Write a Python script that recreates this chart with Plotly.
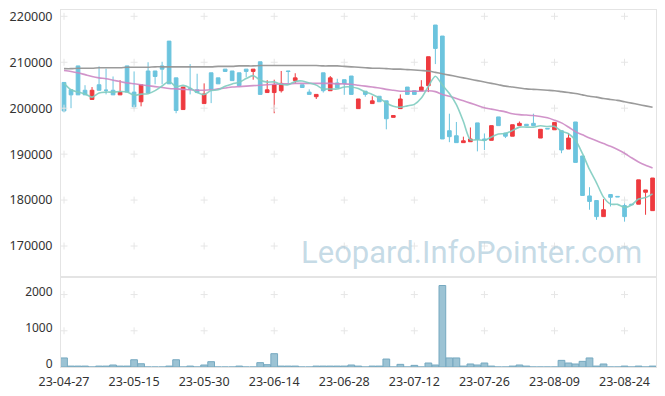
import plotly.graph_objects as go

dates = ["23-04-27", "23-04-28", "23-05-02", "23-05-03", "23-05-04", "23-05-08", "23-05-09", "23-05-10", "23-05-11", "23-05-12",
         "23-05-15", "23-05-16", "23-05-17", "23-05-18", "23-05-19", "23-05-22", "23-05-23", "23-05-24", "23-05-25", "23-05-26",
         "23-05-30", "23-05-31", "23-06-01", "23-06-02", "23-06-05", "23-06-07", "23-06-08", "23-06-09", "23-06-12", "23-06-13",
         "23-06-14", "23-06-15", "23-06-16", "23-06-19", "23-06-20", "23-06-21", "23-06-22", "23-06-23", "23-06-26", "23-06-27",
         "23-06-28", "23-06-29", "23-06-30", "23-07-03", "23-07-04", "23-07-05", "23-07-06", "23-07-07", "23-07-10", "23-07-11",
         "23-07-12", "23-07-13", "23-07-14", "23-07-17", "23-07-18", "23-07-19", "23-07-20", "23-07-21", "23-07-24", "23-07-25",
         "23-07-26", "23-07-27", "23-07-28", "23-07-31", "23-08-01", "23-08-02", "23-08-03", "23-08-04", "23-08-07", "23-08-08",
         "23-08-09", "23-08-10", "23-08-11", "23-08-14", "23-08-16", "23-08-17", "23-08-18", "23-08-21", "23-08-22", "23-08-23",
         "23-08-24", "23-08-25", "23-08-28", "23-08-29", "23-08-30"]

opens = [205600, 204000, 209200, 203900, 201900, 205100, 203900, 203900, 202900, 209200,
         203500, 201400, 208100, 208100, 209200, 214600, 206600, 199700, 204200, 204000,
         201000, 207700, 206600, 208500, 208100, 207700, 208500, 208000, 210100, 203400,
         203400, 203800, 208100, 206000, 205100, 203500, 202500, 207700, 203800, 205500,
         206200, 207000, 199900, 203700, 201000, 202600, 201600, 198000, 199900, 204600,
         203800, 203800, 204900, 218100, 215700, 195100, 194000, 192500, 192700, 196800,
         193300, 193000, 198100, 194600, 193900, 196200, 196500, 196700, 193500, 195600,
         195300, 195100, 191100, 197000, 189600, 180900, 179900, 176400, 181200, 180800,
         178800, 179100, 179100, 181700, 177700]
highs = [205600, 204000, 209200, 205000, 204600, 209100, 208600, 206900, 206100, 209200,
         208000, 205100, 210000, 208100, 210100, 214600, 206600, 204600, 209600, 207500,
         205400, 207700, 206600, 208500, 208100, 207700, 208500, 208500, 210100, 206100,
         206200, 208100, 208100, 207600, 205100, 204100, 203000, 207700, 207000, 206400,
         206200, 207000, 202000, 203700, 202600, 202600, 201600, 198500, 203000, 204600,
         203800, 206100, 211200, 218100, 215700, 198800, 197000, 193800, 195800, 196800,
         194500, 196200, 198100, 194600, 196400, 197100, 196500, 198800, 195400, 195600,
         196900, 195100, 194600, 197000, 189600, 182800, 179900, 180200, 181200, 180800,
         180400, 179100, 184400, 182200, 184800]
lows = [199100, 200000, 202900, 202900, 201900, 203900, 203000, 202900, 202900, 203500,
        199800, 200400, 203300, 205200, 205200, 205300, 198900, 199700, 203000, 203300,
        201000, 201100, 205300, 207900, 206000, 204900, 206700, 206200, 203000, 203400,
        198900, 203400, 205400, 205400, 204500, 203000, 202000, 203400, 203800, 204400,
        202900, 203000, 199900, 202500, 201000, 201400, 195400, 198000, 199900, 203000,
        203000, 203800, 203500, 209600, 193300, 192600, 192500, 192500, 192700, 190600,
        190900, 193000, 196200, 193500, 193900, 196200, 196200, 196200, 193500, 195500,
        195300, 190200, 191100, 188200, 181000, 177900, 175700, 176400, 178600, 180700,
        175300, 179000, 179100, 176800, 177700]
closes = [199400, 202900, 202900, 202900, 203900, 203900, 203900, 202900, 203500, 203500,
          200300, 205100, 203300, 206900, 208500, 205300, 199500, 204600, 204200, 203400,
          203100, 204000, 205300, 208000, 206000, 204900, 208000, 208500, 203000, 204000,
          205100, 205400, 208000, 206600, 204500, 203000, 203000, 203800, 206600, 204400,
          205300, 203000, 202000, 203000, 201600, 201400, 197700, 198400, 202000, 203000,
          203000, 204600, 211200, 213000, 193300, 193800, 192500, 192900, 193300, 193200,
          193000, 196200, 196200, 193900, 196400, 196700, 196200, 196200, 195400, 195500,
          196900, 190900, 193500, 188200, 181000, 179700, 176400, 177900, 180600, 180700,
          176400, 179000, 184400, 182200, 184800]
volumes = [250, 25, 25, 25, 0, 25, 25, 55, 25, 25,
           200, 90, 0, 0, 0, 25, 200, 0, 25, 0,
           55, 147, 0, 0, 0, 25, 0, 0, 120, 64,
           368, 25, 25, 25, 0, 0, 25, 25, 25, 25,
           25, 55, 25, 0, 25, 25, 220, 0, 73, 0,
           45, 0, 110, 55, 2250, 250, 250, 25, 83, 55,
           110, 25, 0, 0, 25, 55, 25, 0, 0, 0,
           0, 183, 110, 83, 156, 250, 25, 83, 0, 0,
           25, 0, 25, 0, 25]
ma5 = [205400, 204000, 203500, 203100, 202400, 203300, 203500, 203500, 203620, 203540,
       202820, 203060, 203140, 203820, 204820, 205820, 204700, 204960, 204420, 203400,
       202960, 203860, 204000, 204760, 205280, 205640, 206440, 207080, 206080, 205680,
       205720, 205200, 205100, 205820, 205920, 205500, 205020, 204180, 204180, 204160,
       204620, 204620, 204260, 203540, 202980, 202200, 201140, 200420, 200220, 200500,
       200820, 202200, 204760, 206960, 205020, 203180, 200760, 197100, 193160, 193140,
       192980, 193720, 194380, 194500, 195140, 195880, 195880, 195880, 196180, 196000,
       196040, 194980, 194440, 193000, 190100, 186660, 183760, 180640, 179120, 179060,
       178400, 178920, 180220, 180540, 181360]
ma20 = [208200, 208000, 207700, 207300, 206900, 206600, 206400, 206100, 205800, 205500,
        205300, 205100, 204900, 204700, 204500, 204300, 204200, 204100, 204000, 203900,
        203900, 204000, 204200, 204400, 204600, 204700, 204800, 204900, 205000, 205100,
        205200, 205300, 205300, 205400, 205400, 205400, 205400, 205400, 205400, 205300,
        205300, 205200, 205000, 204800, 204600, 204400, 204100, 203900, 203700, 203700,
        203700, 203700, 203800, 203600, 203000, 202600, 202100, 201600, 201100, 200600,
        200100, 199800, 199500, 199200, 198800, 198600, 198500, 198400, 198200, 197900,
        197400, 196800, 195900, 194900, 194200, 193500, 192900, 192300, 191700, 191000,
        190200, 189200, 188300, 187600, 187000]
ma60 = [208600, 208600, 208700, 208700, 208700, 208800, 208800, 208800, 208800, 208900,
        208900, 208900, 208900, 209000, 209000, 209000, 209000, 209000, 209000, 209000,
        209000, 209000, 209100, 209100, 209100, 209200, 209200, 209200, 209300, 209300,
        209300, 209300, 209300, 209300, 209300, 209300, 209300, 209200, 209200, 209200,
        209100, 209000, 208900, 208800, 208700, 208700, 208600, 208500, 208500, 208400,
        208300, 208200, 208100, 207800, 207500, 207200, 206900, 206600, 206300, 206000,
        205700, 205400, 205100, 204800, 204600, 204400, 204200, 204100, 204000, 203900,
        203800, 203600, 203400, 203200, 202900, 202600, 202400, 202100, 201900, 201700,
        201400, 201100, 200800, 200500, 200200]

price_ticks = [170000, 180000, 190000, 200000, 210000, 220000]
volume_ticks = [0, 1000, 2000]
date_ticks = dates[::10]

FONT = "Noto Sans"
RED = "#EE3A3F"
BLUE = "#6CC4DE"
FRAME = "#E4E4E4"
CROSS = "#E6E6E6"

fig = go.Figure()

# grid crosses
fig.add_trace(go.Scatter(
    x=[d for d in date_ticks for _ in price_ticks],
    y=[v for _ in date_ticks for v in price_ticks],
    mode="markers", xaxis="x", yaxis="y", hoverinfo="skip", showlegend=False,
    marker=dict(symbol="cross-thin", size=5, line=dict(color=CROSS, width=1))))
fig.add_trace(go.Scatter(
    x=[d for d in date_ticks for _ in volume_ticks[1:]],
    y=[v for _ in date_ticks for v in volume_ticks[1:]],
    mode="markers", xaxis="x2", yaxis="y2", hoverinfo="skip", showlegend=False,
    marker=dict(symbol="cross-thin", size=5, line=dict(color=CROSS, width=1))))

fig.add_trace(go.Candlestick(
    x=dates, open=opens, high=highs, low=lows, close=closes,
    xaxis="x", yaxis="y", showlegend=False, hoverinfo="skip", whiskerwidth=0,
    increasing=dict(fillcolor=RED, line=dict(color=RED, width=1)),
    decreasing=dict(fillcolor=BLUE, line=dict(color=BLUE, width=1))))

for vals, col in [(ma60, "rgba(150,150,150,0.95)"), (ma20, "rgba(204,136,196,0.9)"), (ma5, "rgba(128,204,192,0.9)")]:
    fig.add_trace(go.Scatter(x=dates, y=vals, mode="lines", xaxis="x", yaxis="y",
                             line=dict(color=col, width=1.6, shape="spline", smoothing=0.8),
                             hoverinfo="skip", showlegend=False))

fig.add_trace(go.Bar(x=dates, y=volumes, xaxis="x2", yaxis="y2", showlegend=False,
                     marker=dict(color="#9CC3D4", line=dict(color="#76A9C0", width=1)),
                     hoverinfo="skip"))

split = 0.251
xcommon = dict(type="category", range=[-0.43, 84.49], showgrid=False, zeroline=False,
               showline=True, linecolor=FRAME, linewidth=1, mirror=True, automargin=False,
               categoryorder="array", categoryarray=dates)
fig.update_layout(
    width=665, height=396,
    margin=dict(l=61, r=9, t=10, b=29),
    paper_bgcolor="white", plot_bgcolor="white",
    font=dict(family=FONT, size=12, color="#333333"),
    bargap=0.04, boxgap=0.25,
    xaxis=dict(**xcommon, domain=[0, 1], anchor="y", showticklabels=False,
               rangeslider=dict(visible=False), ticks=""),
    xaxis2=dict(**xcommon, domain=[0, 1], anchor="y2", matches="x",
                tickmode="array", tickvals=date_ticks, ticktext=date_ticks,
                ticks="outside", ticklen=3, tickcolor="rgba(0,0,0,0)",
                tickfont=dict(family=FONT, size=12.5, color="#333333")),
    yaxis=dict(domain=[split, 1], range=[163170, 221370], tickmode="array", automargin=False,
               tickvals=price_ticks, tickformat="d", showgrid=False, zeroline=False,
               showline=True, linecolor=FRAME, mirror=True,
               ticks="outside", ticklen=5, tickcolor="rgba(0,0,0,0)",
               tickfont=dict(family=FONT, size=12.5, color="#333333")),
    yaxis2=dict(domain=[0, split], range=[0, 2474], tickmode="array", automargin=False,
                tickvals=volume_ticks, tickformat="d", showgrid=False, zeroline=False,
                showline=True, linecolor=FRAME, mirror=True,
                ticks="outside", ticklen=5, tickcolor="rgba(0,0,0,0)", ticklabelshift=-3,
                tickfont=dict(family=FONT, size=12, color="#333333")),
    annotations=[dict(text="Leopard.InfoPointer.com", xref="paper", yref="paper",
                      x=0.98, y=0.322, xanchor="right", yanchor="middle", showarrow=False,
                      font=dict(family="Roboto", size=31, color="rgba(160,195,214,0.6)"))],
)

fig.write_html("out.html")
